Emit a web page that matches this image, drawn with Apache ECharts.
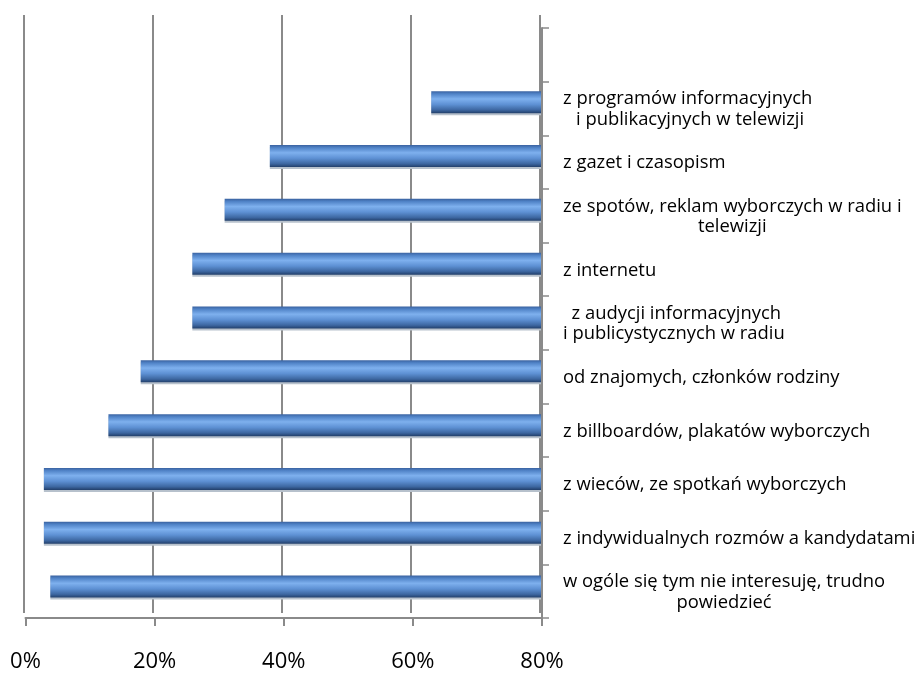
<!DOCTYPE html>
<html>
<head>
<meta charset="utf-8">
<script src="https://cdn.jsdelivr.net/npm/echarts@6/dist/echarts.min.js"></script>
<style>
  html, body { margin: 0; padding: 0; background: #fff; }
  #main { width: 919px; height: 673px; }
</style>
</head>
<body>
<div id="main"></div>
<script>
// kategorie od góry do dołu (pierwsza pusta – wolne miejsce nad słupkami)
const categories = [
  '',
  'z programów informacyjnych\n i publikacyjnych w telewizji',
  'z gazet i czasopism',
  'ze spotów, reklam wyborczych w radiu i\ntelewizji',
  'z internetu',
  ' z audycji informacyjnych\ni publicystycznych w radiu',
  'od znajomych, członków rodziny',
  'z billboardów, plakatów wyborczych',
  'z wieców, ze spotkań wyborczych',
  'z indywidualnych rozmów a kandydatami',
  'w ogóle się tym nie interesuję, trudno\npowiedzieć'
]
// wartości (%) – koniec słupka, oś przecina się na 80%
const values = ['-', 63, 38, 31, 26, 26, 18, 13, 3, 3, 4]
const axisMax = 80
const tickLabels = [0, 20, 40, 60, 80]

const FONT = '"Open Sans", "DejaVu Sans", sans-serif'
const gridColor = '#8a8a8a'

const barFill = new echarts.graphic.LinearGradient(0, 0, 0, 1, [
  { offset: 0, color: '#3a62a0' },
  { offset: 0.12, color: '#5083c7' },
  { offset: 0.35, color: '#7eb0ee' },
  { offset: 0.6, color: '#5e91d4' },
  { offset: 0.85, color: '#3d67a1' },
  { offset: 1, color: '#223f6a' }
])

var myChart = echarts.init(document.getElementById('main'))

var option = {
  animation: false,
  grid: [
    // tylna ściana (linie siatki)
    { left: 23.5, top: 15, width: 516.5, height: 598 },
    // słupki
    { left: 24.5, top: 21.5, width: 516.5, height: 592 },
    // przednie osie
    { left: 25.5, top: 28, width: 516.5, height: 592 }
  ],
  xAxis: [
    {
      gridIndex: 0, type: 'value', min: 0, max: axisMax, interval: 20,
      axisLine: { show: false }, axisTick: { show: false }, axisLabel: { show: false },
      splitLine: { show: true, lineStyle: { color: gridColor, width: 2 } }
    },
    {
      gridIndex: 1, type: 'value', min: 0, max: axisMax, interval: 20, show: false
    },
    {
      gridIndex: 2, type: 'value', min: 0, max: axisMax, interval: 20,
      position: 'bottom',
      axisLine: { show: true, onZero: false, lineStyle: { color: gridColor, width: 2 } },
      axisTick: { show: true, length: 8, lineStyle: { color: gridColor, width: 2 } },
      splitLine: { show: false },
      axisLabel: {
        margin: 33,
        color: '#000',
        fontFamily: FONT,
        fontSize: 22,
        formatter: (v) => tickLabels.indexOf(v) >= 0 ? v + '%' : ''
      }
    }
  ],
  yAxis: [
    {
      gridIndex: 0, type: 'category', inverse: true, data: categories, show: false
    },
    {
      gridIndex: 1, type: 'category', inverse: true, data: categories, show: false
    },
    {
      gridIndex: 2, type: 'category', inverse: true, data: categories,
      position: 'right',
      axisLine: { show: true, onZero: false, lineStyle: { color: gridColor, width: 2 } },
      axisTick: { show: true, length: 7, lineStyle: { color: gridColor, width: 1.5 } },
      splitLine: { show: false },
      axisLabel: {
        margin: 21,
        align: 'left',
        color: '#000',
        fontFamily: FONT,
        fontSize: 18.4,
        lineHeight: 20.5,
        formatter: (name) => name.split('\n').map(l => '{c|' + l + '}').join('\n'),
        rich: {
          c: { align: 'center', fontFamily: FONT, fontSize: 18.4, lineHeight: 20.5, color: '#000', padding: [2, 0, 0, 0] }
        }
      }
    }
  ],
  series: [
    {
      // niewidoczna podstawa – słupek zaczyna się od wartości
      type: 'bar',
      xAxisIndex: 1, yAxisIndex: 1,
      stack: 'bar',
      data: values,
      barWidth: 22,
      silent: true,
      itemStyle: { color: 'rgba(0,0,0,0)' }
    },
    {
      // widoczny słupek od wartości do przecięcia osi (80%)
      type: 'bar',
      xAxisIndex: 1, yAxisIndex: 1,
      stack: 'bar',
      data: values.map(v => v === '-' ? '-' : axisMax - v),
      barWidth: 22,
      itemStyle: {
        color: barFill,
        shadowColor: '#b7c1cc',
        shadowOffsetY: 2,
        shadowBlur: 0
      }
    }
  ]
}

myChart.setOption(option)
window.addEventListener('resize', () => {
  myChart.resize()
})
</script>
</body>
</html>
